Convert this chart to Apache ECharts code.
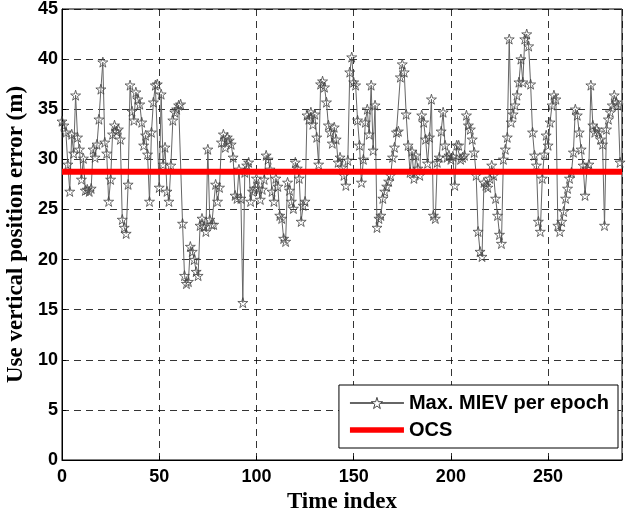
<!DOCTYPE html>
<html><head><meta charset="utf-8">
<script src="https://cdn.jsdelivr.net/npm/echarts@6/dist/echarts.min.js"></script>
<style>html,body{margin:0;padding:0;background:#fff}#c{width:626px;height:516px}</style>
</head><body><div id="c"></div>
<script>
const xTicks = [0, 50, 100, 150, 200, 250];
const yTicks = [0, 5, 10, 15, 20, 25, 30, 35, 40, 45];
const miev = [
33.8,33.4,32.7,29.5,26.8,32.5,30.6,36.4,32.2,31.0,28.0,30.1,26.9,27.0,26.8,27.1,31.0,30.2,31.5,34.0,37.0,39.7,31.7,30.6,25.8,
28.0,32.5,33.4,32.8,33.0,32.0,24.0,23.2,22.6,27.5,37.4,34.8,33.9,36.7,36.0,35.5,33.7,31.4,32.4,30.5,25.8,32.7,35.7,37.4,37.5,
27.2,36.5,29.5,31.2,26.8,25.8,29.4,33.9,34.7,35.0,35.4,35.5,23.6,18.4,17.6,17.8,21.3,20.8,20.0,18.8,18.4,23.4,24.1,23.3,22.8,
31.0,24.0,23.5,23.5,27.5,25.8,27.2,31.7,32.5,31.2,32.2,31.9,31.5,30.2,26.4,26.1,29.0,26.1,15.7,28.7,29.4,29.7,25.8,26.8,27.1,
28.1,27.1,26.0,27.0,28.0,30.4,30.0,29.0,26.8,25.8,28.1,27.3,24.4,24.1,22.1,21.8,27.7,26.9,25.8,25.1,29.7,29.1,28.1,23.8,25.4,25.8,
34.4,34.0,34.7,33.5,34.5,32.2,29.5,37.5,37.8,37.2,35.7,33.4,32.7,31.6,33.2,32.0,29.7,30.2,29.2,28.4,27.4,29.9,38.7,40.2,37.7,
37.4,33.9,31.4,27.7,30.0,33.7,35.0,32.5,37.4,30.9,35.4,23.2,24.1,24.4,26.1,26.8,27.3,27.8,28.4,30.2,31.2,32.7,32.8,38.2,39.5,38.7,
34.5,31.4,28.7,30.8,28.1,30.4,29.1,28.4,34.4,33.7,32.0,29.6,32.2,36.0,24.4,24.1,29.7,30.2,32.8,34.7,31.4,30.2,30.4,30.0,30.3,27.4,31.4,
31.4,30.0,30.2,30.4,34.4,33.4,33.0,32.0,30.7,28.4,22.8,20.8,20.3,27.7,27.4,27.2,28.1,29.4,28.4,26.1,24.4,22.5,21.6,30.0,31.0,32.2,42.0,
33.7,34.5,35.4,36.4,37.7,40.0,37.7,42.0,42.5,41.3,37.5,32.7,30.4,29.4,23.8,22.8,28.1,30.5,32.4,31.4,33.7,35.4,36.4,36.0,23.4,
22.8,23.8,24.8,26.1,27.1,28.1,28.7,30.7,35.0,34.4,32.7,31.0,29.4,26.4,29.1,29.5,37.4,33.4,32.7,33.0,32.7,32.0,31.5,23.4,33.0,34.0,34.7,35.4,36.4,35.7,35.4,29.7
];
const ocsValue = 28.75;
const xMax = 288;

const star = 'path://M50,0 L61,35 L98,35 L68,57 L79,91 L50,70 L21,91 L32,57 L2,35 L39,35 Z';
const bar = 'path://M0,0 L60,0 L60,6 L0,6 Z';
const tickFont = {fontFamily:'Liberation Sans, Arial', fontWeight:'bold', fontSize:18, color:'#000'};
const titleFont = {fontFamily:'Liberation Serif, Times New Roman', fontWeight:'bold', fontSize:23, color:'#000'};
const chart = echarts.init(document.getElementById('c'), null, {renderer:'canvas'});
chart.setOption({
  animation:false,
  backgroundColor:'#fff',
  grid:{left:62, right:4, top:9, bottom:56, outerBoundsMode:'none', containLabel:false,
    show:true, borderColor:'#000', borderWidth:1, backgroundColor:'transparent'},
  xAxis:{type:'value', min:0, max:xMax, interval:50,
    name:'Time index', nameLocation:'middle', nameGap:29, nameTextStyle:titleFont,
    axisLine:{show:true, lineStyle:{color:'#000', width:1}},
    axisTick:{show:true, inside:true, length:4, lineStyle:{color:'#000'}},
    axisLabel:Object.assign({margin:8, showMaxLabel:false, formatter:v=>xTicks.includes(v)?String(v):''}, tickFont),
    splitLine:{show:true, lineStyle:{color:'#000', width:0.8, type:[7,5]}}
  },
  yAxis:{type:'value', min:0, max:45, interval:5,
    name:'Use vertical position error (m)', nameLocation:'middle', nameGap:34, nameTextStyle:titleFont,
    axisLine:{show:true, lineStyle:{color:'#000', width:1}},
    axisTick:{show:true, inside:true, length:4, lineStyle:{color:'#000'}},
    axisLabel:Object.assign({margin:4, formatter:v=>yTicks.includes(v)?String(v):''}, tickFont),
    splitLine:{show:true, lineStyle:{color:'#000', width:0.8, type:[7,5]}}
  },
  legend:{show:true, orient:'vertical', right:8, bottom:68, backgroundColor:'#fff',
    borderColor:'#000', borderWidth:1, borderRadius:0, padding:[8,9,8,10], itemGap:7,
    itemWidth:54, itemHeight:14,
    textStyle:{fontFamily:'Liberation Sans, Arial', fontWeight:'bold', fontSize:20, color:'#000'},
    data:[
      {name:'Max. MIEV per epoch', itemStyle:{color:'#fff', borderColor:'#444', borderWidth:1}},
      {name:'OCS', icon:bar, itemStyle:{color:'#ff0000'}}
    ]
  },
  series:[
    {name:'Max. MIEV per epoch', type:'line', data:miev.map((v,i)=>[i,v]),
      symbol:star, symbolSize:10, showAllSymbol:true,
      lineStyle:{color:'#666', width:1},
      itemStyle:{color:'rgba(255,255,255,0)', borderColor:'#444', borderWidth:0.8},
      z:3},
    {name:'OCS', type:'line', data:[[0,ocsValue],[xMax,ocsValue]], symbol:'none',
      lineStyle:{color:'#ff0000', width:6}, itemStyle:{color:'#ff0000'}, z:4}
  ]
});
</script></body></html>
